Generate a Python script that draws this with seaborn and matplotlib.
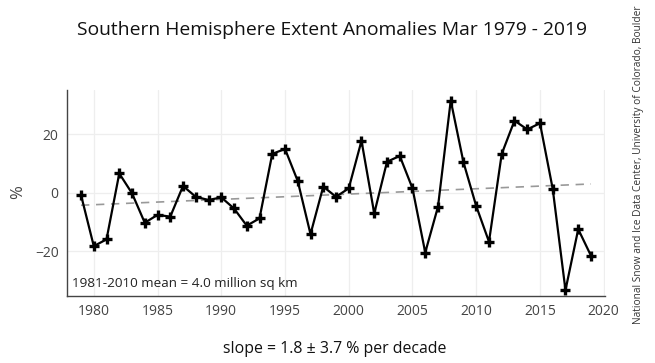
import matplotlib
matplotlib.use("Agg")
import matplotlib.pyplot as plt
import seaborn as sns
import pandas as pd

# March extent anomalies (%)
years = list(range(1979, 2020))
anomaly = [
    -0.8, -18.3, -16.0, 6.6, -0.2, -10.3, -7.6, -8.2, 2.3, -1.4,
    -2.5, -1.6, -5.4, -11.3, -8.8, 13.3, 15.0, 4.0, -14.2, 2.1,
    -1.4, 1.5, 17.8, -7.1, 10.6, 12.6, 1.5, -20.5, -4.8, 31.6,
    10.4, -4.6, -16.8, 13.3, 24.7, 21.7, 23.8, 1.3, -33.4, -12.5,
    -21.6,
]
trend_years = [1979, 2019]
trend_values = [-4.3, 3.0]
x_ticks = [1980, 1985, 1990, 1995, 2000, 2005, 2010, 2015, 2020]
y_ticks = [-20, 0, 20]

df = pd.DataFrame({"year": years, "anomaly": anomaly})
trend = pd.DataFrame({"year": trend_years, "value": trend_values})

sns.set_theme(style="white")
plt.rcParams["font.family"] = ["Open Sans", "DejaVu Sans"]

fig = plt.figure(figsize=(6.55, 3.63), dpi=100)
ax = fig.add_axes([67 / 655, 1 - 296 / 363, (605 - 67) / 655, (296 - 90) / 363])

# dashed linear trend
sns.lineplot(data=trend, x="year", y="value", ax=ax, color="#999999",
             linestyle=(0, (5, 4)), linewidth=1.2)

# yearly anomalies
sns.lineplot(data=df, x="year", y="anomaly", ax=ax, color="black",
             linewidth=1.6, marker="+", markersize=7, markeredgewidth=2.4,
             markeredgecolor="black")

ax.set_xlim(1977.9, 2020.1)
ax.set_ylim(-35.4, 35.2)
ax.set_xticks(x_ticks)
ax.set_yticks(y_ticks)
ax.set_xticklabels([str(t) for t in x_ticks])
ax.set_yticklabels([str(t).replace("-", "\u2212") for t in y_ticks])
ax.tick_params(axis="both", length=0, labelsize=10, colors="#444444", pad=6)
ax.grid(True, color="#eeeeee", linewidth=0.9)
ax.set_axisbelow(True)

for side in ["top", "right"]:
    ax.spines[side].set_visible(False)
for side in ["left", "bottom"]:
    ax.spines[side].set_color("#444444")
    ax.spines[side].set_linewidth(1.0)

ax.set_xlabel("")
ax.set_ylabel("")

fig.text(18 / 655, 1 - 192 / 363, "%", rotation=90, ha="center", va="center",
         fontsize=12, color="#444444")
ax.text(1978.3, -31.0, "1981-2010 mean = 4.0 million sq km", ha="left",
        va="center", fontsize=9.7, color="#222222")

fig.text(332 / 655, 1 - 30 / 363,
         "Southern Hemisphere Extent Anomalies Mar 1979 - 2019",
         ha="center", va="center", fontsize=13.9, color="#111111")
fig.text(335 / 655, 1 - 349 / 363, "slope = 1.8 \u00b1 3.7 % per decade",
         ha="center", va="center", fontsize=11.4, color="#111111")
fig.text(638 / 655, 1 - 165 / 363,
         "National Snow and Ice Data Center, University of Colorado, Boulder",
         rotation=90, ha="center", va="center", fontsize=7.3, color="#333333")

fig.savefig("out.png", dpi=100, facecolor="white")
